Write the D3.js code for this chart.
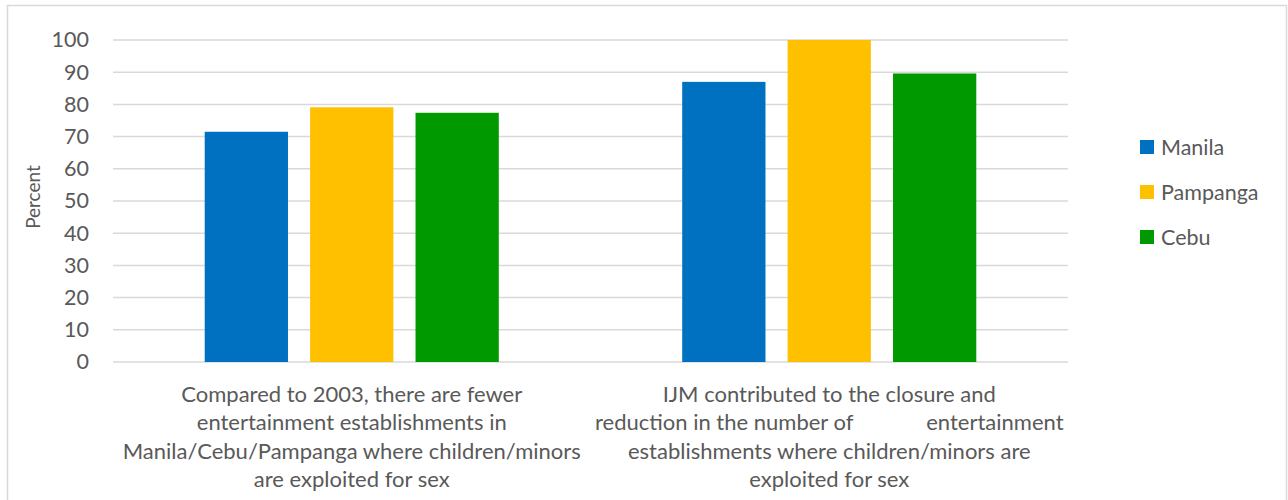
<!DOCTYPE html>
<html>
<head>
<meta charset="utf-8">
<script src="https://cdn.jsdelivr.net/npm/d3@7"></script>
<style>
  html, body { margin: 0; padding: 0; background: #fff; }
  svg { display: block; font-family: Lato, "Open Sans", sans-serif; }
  .lbl { white-space: pre; }
</style>
</head>
<body>
<svg id="chart" width="1288" height="500"></svg>
<script>
// Survey statements (x categories) and their wrapped label lines
const categories = ["closure-2003", "ijm-contribution"];
const categoryLines = [
  ["Compared to 2003, there are fewer",
   "entertainment establishments in",
   "Manila/Cebu/Pampanga where children/minors",
   "are exploited for sex"],
  ["IJM contributed to the closure and",
   "reduction in the number of             entertainment",
   "establishments where children/minors are",
   "exploited for sex"]
];

// Regions and their percentage agreeing with each statement
const seriesNames = ["Manila", "Pampanga", "Cebu"];
const manila   = [71.5, 87.0];
const pampanga = [79.1, 100.0];
const cebu     = [77.4, 89.6];
const seriesColors = ["#0070C0", "#FFC000", "#009900"];

const yTicks = [0, 10, 20, 30, 40, 50, 60, 70, 80, 90, 100];
const yTitle = "Percent";

const values = [manila, pampanga, cebu];
const svg = d3.select("#chart");
const textColor = "#595959";

// chart frame
svg.append("rect")
  .attr("x", 7.5).attr("y", 5.5)
  .attr("width", 1279).attr("height", 520)
  .attr("fill", "none")
  .attr("stroke", "#d9d9d9")
  .attr("stroke-width", 1.5);

const plot = { left: 113, right: 1068, top: 40, bottom: 362 };

const y = d3.scaleLinear().domain([0, 100]).range([plot.bottom, plot.top]);
const x0 = d3.scaleBand().domain(categories).range([plot.left, plot.right]).padding(0);
const x1 = d3.scaleBand().domain(seriesNames).range([0, x0.bandwidth()])
  .paddingInner(0.21).paddingOuter(0.87);
const color = d3.scaleOrdinal().domain(seriesNames).range(seriesColors);

// horizontal gridlines
svg.append("g")
  .selectAll("line")
  .data(yTicks)
  .join("line")
  .attr("x1", plot.left).attr("x2", plot.right)
  .attr("y1", d => y(d)).attr("y2", d => y(d))
  .attr("stroke", "#d9d9d9")
  .attr("stroke-width", 1.5);

// y axis tick labels
const yAxis = d3.axisLeft(y).tickValues(yTicks).tickSize(0).tickPadding(0);
const yG = svg.append("g")
  .attr("transform", `translate(89,0)`)
  .call(yAxis);
yG.select(".domain").remove();
yG.selectAll("text")
  .attr("fill", textColor)
  .style("font-size", "21.5px")
  .style("font-family", "Lato, 'Open Sans', sans-serif");

// y axis title
svg.append("text")
  .attr("transform", `translate(40,${(plot.top + plot.bottom) / 2 - 4}) rotate(-90)`)
  .attr("text-anchor", "middle")
  .attr("fill", textColor)
  .style("font-size", "19px")
  .text(yTitle);

// grouped bars
const groups = svg.append("g")
  .selectAll("g")
  .data(categories)
  .join("g")
  .attr("transform", d => `translate(${x0(d)},0)`);

groups.selectAll("rect")
  .data((d, i) => seriesNames.map((s, j) => ({ series: s, value: values[j][i] })))
  .join("rect")
  .attr("x", d => x1(d.series))
  .attr("width", x1.bandwidth())
  .attr("y", d => y(d.value))
  .attr("height", d => y(0) - y(d.value))
  .attr("fill", d => color(d.series));

// category labels
const lineHeight = 28.3;
const xLabels = svg.append("g");
categories.forEach((c, i) => {
  const cx = x0(c) + x0.bandwidth() / 2;
  const t = xLabels.append("text")
    .attr("class", "lbl")
    .attr("text-anchor", "middle")
    .attr("fill", textColor)
    .style("font-size", "22px");
  categoryLines[i].forEach((line, k) => {
    t.append("tspan")
      .attr("x", cx)
      .attr("y", 402 + k * lineHeight)
      .text(line);
  });
});

// legend
const legend = svg.append("g")
  .selectAll("g")
  .data(seriesNames)
  .join("g")
  .attr("transform", (d, i) => `translate(1140,${147 + i * 45})`);
legend.append("rect")
  .attr("x", 0).attr("y", -7)
  .attr("width", 14).attr("height", 14)
  .attr("fill", d => color(d));
legend.append("text")
  .attr("x", 21).attr("y", 8)
  .attr("fill", textColor)
  .style("font-size", "21.5px")
  .text(d => d);
</script>
</body>
</html>
